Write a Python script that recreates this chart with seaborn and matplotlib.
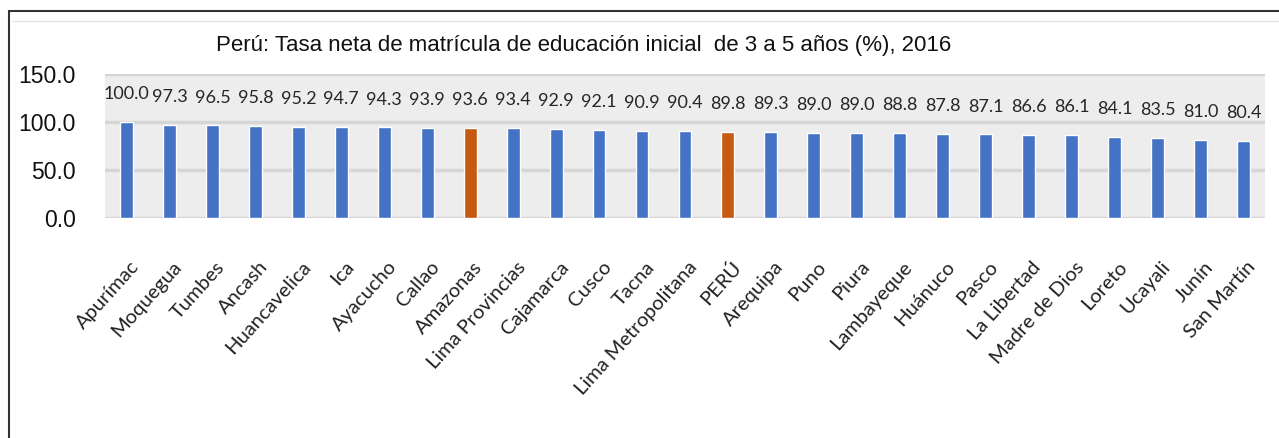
import numpy as np
import pandas as pd
import seaborn as sns
import matplotlib.pyplot as plt
from matplotlib.lines import Line2D
from matplotlib.transforms import ScaledTranslation

# Data
regiones = ['Apurímac', 'Moquegua', 'Tumbes', 'Ancash', 'Huancavelica', 'Ica',
            'Ayacucho', 'Callao', 'Amazonas', 'Lima Provincias', 'Cajamarca',
            'Cusco', 'Tacna', 'Lima Metropolitana', 'PERÚ', 'Arequipa', 'Puno',
            'Piura', 'Lambayeque', 'Huánuco', 'Pasco', 'La Libertad',
            'Madre de Dios', 'Loreto', 'Ucayali', 'Junín', 'San Martín']
tasa = [100.0, 97.3, 96.5, 95.8, 95.2, 94.7, 94.3, 93.9, 93.6, 93.4, 92.9,
        92.1, 90.9, 90.4, 89.8, 89.3, 89.0, 89.0, 88.8, 87.8, 87.1, 86.6,
        86.1, 84.1, 83.5, 81.0, 80.4]
destacadas = ['Amazonas', 'PERÚ']

df = pd.DataFrame({'region': regiones, 'tasa': tasa})

azul = '#4472C4'
naranja = '#C55A11'
colores = [naranja if r in destacadas else azul for r in regiones]

sns.set_style("white", {'axes.facecolor': '#EDEDED'})
arial = ['Liberation Sans', 'DejaVu Sans']

fig = plt.figure(figsize=(12.79, 4.38), dpi=100)
ax = fig.add_axes([0.0821, 0.5023, 0.9069, 0.3288])

sns.barplot(data=df, x='region', y='tasa', hue='region', palette=colores,
            width=0.3, legend=False, ax=ax, saturation=1)

ax.set_ylim(0, 150)
ax.set_xlim(-0.5, len(regiones) - 0.5)
ax.set_yticks([0, 50, 100, 150])
ax.set_yticklabels([f'{t:.1f}' for t in [0, 50, 100, 150]],
                   fontsize=16.5, family=arial, color='#111111')
ax.yaxis.grid(True, color='#D6D6D6', linewidth=2.5)
ax.set_axisbelow(True)
for s in ax.spines.values():
    s.set_visible(False)
ax.tick_params(axis='y', length=0, pad=21)
ax.tick_params(axis='x', length=0, pad=29)
ax.set_xlabel('')
ax.set_ylabel('')

ax.set_xticks(range(len(regiones)))
ax.set_xticklabels(regiones, rotation=48, ha='right', va='top',
                   rotation_mode='anchor', fontsize=14.5, family='Lato',
                   color='#222222')
# small shift to the right, like the original layout
off = ScaledTranslation(3 / 100, 0, fig.dpi_scale_trans)
for lab in ax.get_xticklabels():
    lab.set_transform(lab.get_transform() + off)

# Data labels
for i, v in enumerate(tasa):
    ax.text(i, v + 29, f'{v:.1f}', ha='center', va='center', fontsize=13,
            family='Lato', color='#262626')

fig.text(0.456, 0.897, 'Perú: Tasa neta de matrícula de educación inicial  de 3 a 5 años (%), 2016',
         ha='center', va='center', fontsize=16, family=arial, color='#111111')

# Frame lines
fig.add_artist(Line2D([9 / 1279, 1], [1 - 11 / 438, 1 - 11 / 438],
                      transform=fig.transFigure, color='#333333', linewidth=1.5))
fig.add_artist(Line2D([9 / 1279, 9 / 1279], [0, 1 - 11 / 438],
                      transform=fig.transFigure, color='#333333', linewidth=1.5))
fig.add_artist(Line2D([12 / 1279, 1], [1 - 21 / 438, 1 - 21 / 438],
                      transform=fig.transFigure, color='#E4E4E4', linewidth=1))

fig.savefig('out.png', dpi=100, facecolor='white')
